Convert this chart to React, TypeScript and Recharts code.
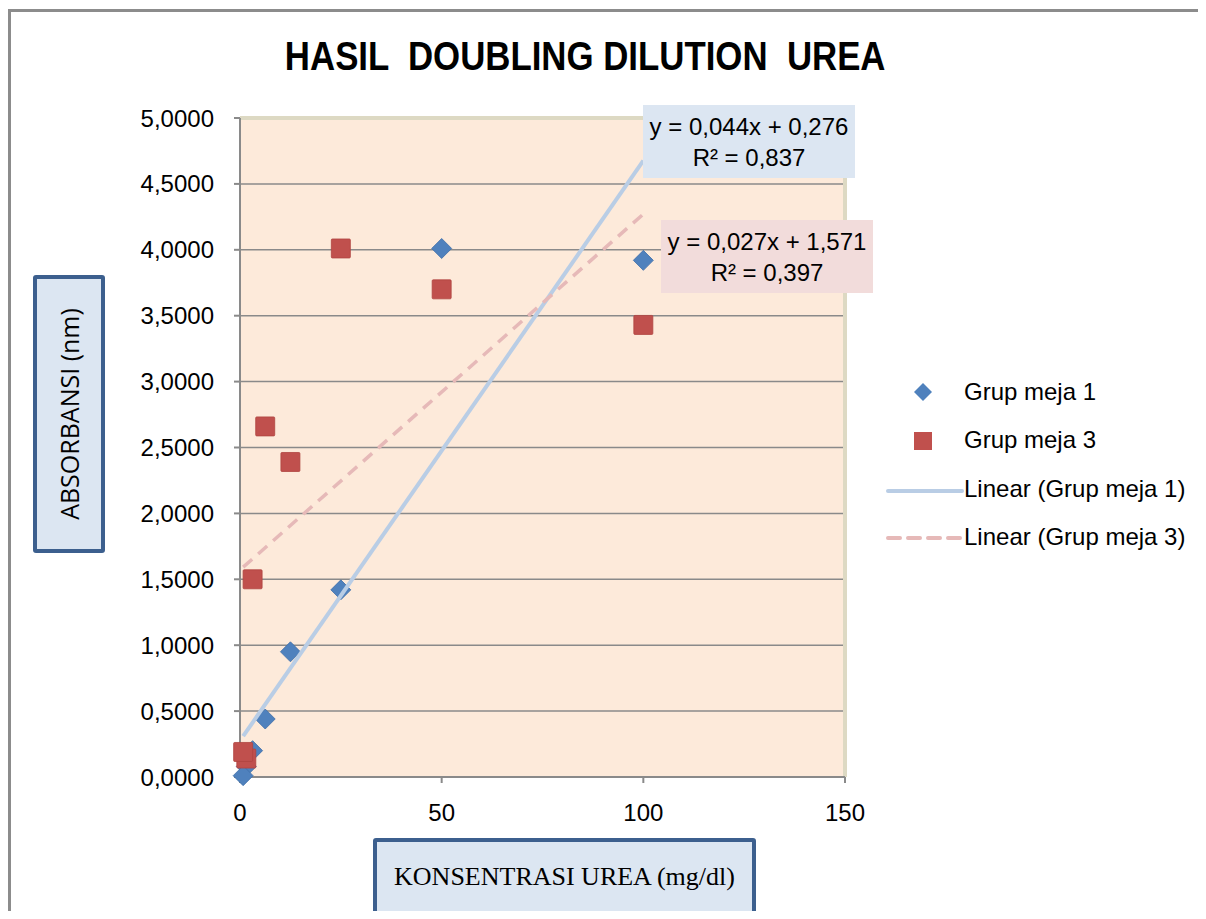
import React from "react";
import {
  ScatterChart, Scatter, XAxis, YAxis, CartesianGrid, ReferenceLine
} from "recharts";

// concentrations of the doubling dilution (mg/dl)
const conc = [100, 50, 25, 12.5, 6.25, 3.125, 1.5625, 0.78125];
const meja1 = [3.92, 4.01, 1.42, 0.95, 0.44, 0.2, 0.08, 0.01];
const meja3 = [3.43, 3.7, 4.01, 2.39, 2.66, 1.5, 0.14, 0.19];

// trendline end points (from the fitted equations shown)
const trendX = [0.78125, 100];
const trend1Y = [0.31, 4.676];
const trend3Y = [1.592, 4.271];

const yTicks = [0, 0.5, 1, 1.5, 2, 2.5, 3, 3.5, 4, 4.5, 5];
const xTicks = [0, 50, 100, 150];

const data1 = conc.map((x, i) => ({ x, y: meja1[i] }));
const data3 = conc.map((x, i) => ({ x, y: meja3[i] }));
const trend1 = trendX.map((x, i) => ({ x, y: trend1Y[i] }));
const trend3 = trendX.map((x, i) => ({ x, y: trend3Y[i] }));

const BLUE = "#4F81BD";
const RED = "#C0504D";
const SANS = "'Liberation Sans', Arial, sans-serif";

const Diamond = (p: any) => {
  const { cx, cy } = p;
  const r = 10;
  return (
    <polygon
      points={`${cx},${cy - r} ${cx + r},${cy} ${cx},${cy + r} ${cx - r},${cy}`}
      fill={BLUE}
      stroke="#3F6FA8"
      strokeWidth={0.8}
    />
  );
};

const Square = (p: any) => {
  const { cx, cy } = p;
  const r = 9.5;
  return <rect x={cx - r} y={cy - r} width={2 * r} height={2 * r} fill={RED} stroke="#B04440" strokeWidth={0.8} rx={1} />;
};

const fmt = (v: number) => v.toFixed(4).replace(".", ",");

export default function App() {
  return (
    <div style={{ position: "relative", width: 1206, height: 919, margin: -8, background: "#fff", overflow: "hidden" }}>
      {/* outer frame */}
      <div style={{ position: "absolute", left: 8, top: 9, width: 1300, height: 1000, borderTop: "3px solid #8C8C8C", borderLeft: "3px solid #8C8C8C" }} />

      <div style={{ position: "absolute", left: 0, top: 34, width: 1170, textAlign: "center" }}>
        <span style={{ display: "inline-block", transform: "scaleX(0.87)", fontFamily: SANS, fontWeight: "bold", fontSize: 40, color: "#000", whiteSpace: "pre" }}>
          {"HASIL  DOUBLING DILUTION  UREA"}
        </span>
      </div>

      <div style={{ position: "absolute", left: 0, top: 0 }}>
        <ScatterChart width={1206} height={919} margin={{ top: 118, right: 361, bottom: 102, left: 140 }}>
          <CartesianGrid vertical={false} stroke="#8A8A8A" strokeWidth={1.5} fill="#FDEADA" fillOpacity={1} />
          <XAxis
            type="number"
            dataKey="x"
            domain={[0, 150]}
            ticks={xTicks}
            height={40}
            stroke="#8A8A8A"
            strokeWidth={2}
            tickSize={6}
            tickMargin={21}
            tick={{ fill: "#000", fontSize: 24, fontFamily: SANS }}
          />
          <YAxis
            type="number"
            dataKey="y"
            domain={[0, 5]}
            ticks={yTicks}
            width={100}
            stroke="#8A8A8A"
            strokeWidth={2}
            tickSize={6}
            tickMargin={20}
            tickFormatter={fmt}
            tick={{ fill: "#000", fontSize: 24, fontFamily: SANS }}
          />
          <ReferenceLine y={5} stroke="#DDD9C3" strokeWidth={4} />
          <ReferenceLine x={150} stroke="#DDD9C3" strokeWidth={4} />
          <Scatter data={data1} shape={Diamond} isAnimationActive={false} />
          <Scatter data={data3} shape={Square} isAnimationActive={false} />
          <Scatter data={trend1} shape={() => null} line={{ stroke: "#B9CDE5", strokeWidth: 4 }} isAnimationActive={false} />
          <Scatter data={trend3} shape={() => null} line={{ stroke: "#E6B9B8", strokeWidth: 3.5, strokeDasharray: "12 8" }} isAnimationActive={false} />
        </ScatterChart>
      </div>

      {/* equation labels */}
      <div style={{ position: "absolute", left: 643, top: 105, width: 212, height: 73, background: "#DCE6F2", fontFamily: SANS, fontSize: 24, lineHeight: "31px", textAlign: "center", paddingTop: 6, boxSizing: "border-box", color: "#000" }}>
        y = 0,044x + 0,276<br />R² = 0,837
      </div>
      <div style={{ position: "absolute", left: 661, top: 220, width: 212, height: 73, background: "#F2DCDB", fontFamily: SANS, fontSize: 24, lineHeight: "31px", textAlign: "center", paddingTop: 6, boxSizing: "border-box", color: "#000" }}>
        y = 0,027x + 1,571<br />R² = 0,397
      </div>

      {/* axis title boxes */}
      <div style={{ position: "absolute", left: 33, top: 275, width: 72, height: 278, background: "#DCE6F2", border: "4px solid #3C5F8E", borderRadius: 3, boxSizing: "border-box" }}>
        <div style={{ position: "absolute", left: "50%", top: "50%", transform: "translate(-50%, -50%) rotate(-90deg)", whiteSpace: "nowrap", fontFamily: "'Open Sans', 'Liberation Sans', sans-serif", fontSize: 25, color: "#000" }}>
          ABSORBANSI (nm)
        </div>
      </div>
      <div style={{ position: "absolute", left: 373, top: 838, width: 383, height: 78, background: "#DCE6F2", border: "4px solid #3C5F8E", borderRadius: 3, boxSizing: "border-box", display: "flex", alignItems: "center", justifyContent: "center", fontFamily: "'Liberation Serif', 'Times New Roman', serif", fontSize: 26, color: "#000" }}>
        KONSENTRASI UREA (mg/dl)
      </div>

      {/* legend */}
      <svg style={{ position: "absolute", left: 880, top: 370 }} width={326} height={190}>
        <polygon points="43,13 52,22 43,31 34,22" fill={BLUE} />
        <rect x={34} y={62} width={18} height={18} fill={RED} />
        <line x1={8} y1={121} x2={82} y2={121} stroke="#B9CDE5" strokeWidth={4} strokeLinecap="round" />
        <line x1={8} y1={168} x2={82} y2={168} stroke="#E6B9B8" strokeWidth={4} strokeDasharray="12 8" strokeLinecap="round" />
        <g fontFamily={SANS} fontSize={24} fill="#000">
          <text x={84} y={30}>Grup meja 1</text>
          <text x={84} y={78}>Grup meja 3</text>
          <text x={84} y={127}>Linear (Grup meja 1)</text>
          <text x={84} y={175}>Linear (Grup meja 3)</text>
        </g>
      </svg>
    </div>
  );
}
